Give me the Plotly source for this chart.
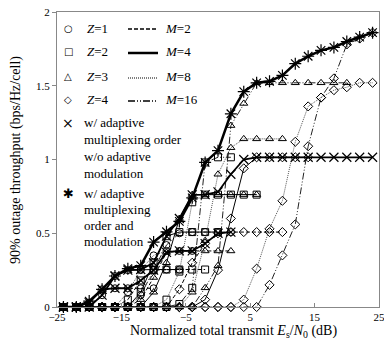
import plotly.graph_objects as go

# ---------------- data ----------------
snr_db = [-24, -22, -20, -18, -16, -14, -12, -10, -8, -6, -4, -2, 0,
          2, 4, 6, 8, 10, 12, 14, 16, 18, 20, 22, 24]

# Z = number of multiplexed streams, M = modulation order
z1_m2 = [0, 0, 0.03, 0.12, 0.127, 0.127, 0.127, 0.127]
z1_m4 = [0, 0, 0, 0.08, 0.21, 0.25, 0.254, 0.254, 0.254, 0.254]
z1_m8 = [0, 0, 0, 0, 0, 0.1, 0.25, 0.35, 0.38, 0.38, 0.38]
z1_m16 = [0, 0, 0, 0, 0, 0, 0.08, 0.25, 0.42, 0.5, 0.508, 0.508, 0.508, 0.508]

z2_m2 = [0, 0, 0, 0, 0, 0.05, 0.18, 0.25, 0.254, 0.254, 0.254, 0.254]
z2_m4 = [0, 0, 0, 0, 0, 0, 0.1, 0.3, 0.48, 0.508, 0.508, 0.508, 0.508]
z2_m8 = [0, 0, 0, 0, 0, 0, 0, 0, 0.05, 0.24, 0.71, 0.762, 0.762, 0.762, 0.762, 0.762]
z2_m16 = [0, 0, 0, 0, 0, 0, 0, 0, 0, 0.02, 0.13, 0.98, 1.015, 1.015]

z3_m2 = [0, 0, 0, 0, 0, 0, 0.05, 0.2, 0.37, 0.38, 0.38, 0.38, 0.38, 0.38]
z3_m4 = [0, 0, 0, 0, 0, 0, 0, 0.1, 0.3, 0.6, 0.762, 0.762, 0.762, 0.762, 0.762, 0.762]
z3_m8 = [0, 0, 0, 0, 0, 0, 0, 0, 0, 0, 0.1, 0.45, 0.9, 1.08, 1.14, 1.14, 1.14, 1.14]
z3_m16 = [0, 0, 0, 0, 0, 0, 0, 0, 0, 0, 0, 0.13, 0.28, 1.23, 1.38, 1.52, 1.52,
          1.52, 1.52, 1.52, 1.52, 1.52, 1.52]

z4_m2 = [0, 0, 0, 0, 0, 0, 0, 0, 0, 0.12, 0.3, 0.43, 0.5, 0.508, 0.508, 0.508,
         0.508, 0.508]
z4_m4 = [0, 0, 0, 0, 0, 0, 0, 0, 0, 0, 0, 0.05, 0.25, 0.6, 0.94, 1.015, 1.015,
         1.015, 1.015, 1.015]
z4_m8 = [0, 0, 0, 0, 0, 0, 0, 0, 0, 0, 0, 0, 0, 0, 0.05, 0.26, 0.53, 0.72, 1.12,
         1.36, 1.42, 1.47, 1.49, 1.52, 1.52]
z4_m16 = [0, 0, 0, 0, 0, 0, 0, 0, 0, 0, 0, 0, 0, 0, 0, 0, 0.15, 0.35, 0.56, 1.09,
          1.42, 1.55, 1.78, 1.82, 1.86]

# w/ adaptive multiplexing order, w/o adaptive modulation
adapt_z_m2 = [0, 0, 0.03, 0.12, 0.127, 0.127, 0.18, 0.25, 0.37, 0.38, 0.38, 0.43,
              0.5, 0.508]
adapt_z_m4 = [0, 0, 0, 0.08, 0.21, 0.25, 0.254, 0.3, 0.48, 0.6, 0.76, 0.762, 0.78,
              0.9, 1.0, 1.015, 1.015, 1.015, 1.015, 1.015, 1.015, 1.015, 1.015,
              1.015, 1.015]
# w/ adaptive multiplexing order and modulation
adapt_both = [0, 0, 0.04, 0.12, 0.21, 0.26, 0.28, 0.44, 0.51, 0.58, 0.74, 0.98,
              1.06, 1.31, 1.46, 1.52, 1.53, 1.57, 1.65, 1.70, 1.74, 1.76, 1.80,
              1.83, 1.86]

x_ticks = [-25, -15, -5, 5, 15, 25]
y_ticks = [0, 0.5, 1, 1.5, 2]
y_tick_text = ["0", "0.5", "1", "1.5", "2"]

# ---------------- styles ----------------
marker_by_z = {1: "circle-open", 2: "square-open", 3: "triangle-up-open",
               4: "diamond-open"}
dash_by_m = {2: "4px,2px", 4: "solid", 8: "1px,1px", 16: "7px,2px,1px,2px,1px,2px"}
color_by_m = {2: "#000000", 4: "#000000", 8: "#555555", 16: "#222222"}

curves = {
    (1, 2): z1_m2, (1, 4): z1_m4, (1, 8): z1_m8, (1, 16): z1_m16,
    (2, 2): z2_m2, (2, 4): z2_m4, (2, 8): z2_m8, (2, 16): z2_m16,
    (3, 2): z3_m2, (3, 4): z3_m4, (3, 8): z3_m8, (3, 16): z3_m16,
    (4, 2): z4_m2, (4, 4): z4_m4, (4, 8): z4_m8, (4, 16): z4_m16,
}

fig = go.Figure()

for (z, m), vals in curves.items():
    n = len(vals)
    fig.add_trace(go.Scatter(
        x=snr_db[:n], y=vals, mode="lines+markers", cliponaxis=False,
        line=dict(color=color_by_m[m], width=1, dash=dash_by_m[m]),
        marker=dict(symbol=marker_by_z[z], size=7, color="black",
                    line=dict(width=1, color="black")),
    ))

for vals in (adapt_z_m2, adapt_z_m4):
    n = len(vals)
    fig.add_trace(go.Scatter(
        x=snr_db[:n], y=vals, mode="lines+markers", cliponaxis=False,
        line=dict(color="black", width=1.8),
        marker=dict(symbol="x-thin-open", size=9, color="black",
                    line=dict(width=1.2, color="black")),
    ))

fig.add_trace(go.Scatter(
    x=snr_db, y=adapt_both, mode="lines+markers", cliponaxis=False,
    line=dict(color="black", width=2.5),
    marker=dict(symbol="asterisk-open", size=10, color="black",
                line=dict(width=1.2, color="black")),
))

# ---------------- layout ----------------
L, R, T, B = 57, 5, 12, 40
PW, PH = 384 - L - R, 347 - T - B


def px(xp):
    return (xp - L) / PW


def py(yp):
    return (347 - B - yp) / PH


serif = "Liberation Serif"
ann = []
shapes = []


def note(x, y, text, family=serif, size=13, xanchor="left", angle=0):
    ann.append(dict(x=px(x), y=py(y), xref="paper", yref="paper", text=text,
                    showarrow=False, xanchor=xanchor, yanchor="middle",
                    textangle=angle,
                    font=dict(family=family, size=size, color="black")))


legend_rows = [(28, "\u25CB", 1, 2, "4px,2px", 1.3),
               (52, "\u25A1", 2, 4, "solid", 2.5),
               (77, "\u25B3", 3, 8, "1px,1px", 1),
               (100, "\u25C7", 4, 16, "7px,2px,1px,2px,1px,2px", 1.5)]
for yy, sym, z, m, dash, w in legend_rows:
    note(68, yy, sym, family="DejaVu Sans", size=10, xanchor="center")
    note(85, yy, f"<i>Z</i>={z}")
    note(163, yy, f"<i>M</i>={m}")
    shapes.append(dict(type="line", xref="paper", yref="paper",
                       x0=px(128), x1=px(158), y0=py(yy + 1), y1=py(yy + 1),
                       line=dict(color="black", width=w, dash=dash)))

note(68, 123, "\u00D7", family="DejaVu Sans", size=14, xanchor="center")
for i, t in enumerate(["w/ adaptive", "multiplexing order", "w/o adaptive",
                       "modulation"]):
    note(82, 123 + i * 16.7, t)

note(68, 193, "\u2731", family="DejaVu Sans", size=13, xanchor="center")
for i, t in enumerate(["w/ adaptive", "multiplexing", "order and",
                       "modulation"]):
    note(82, 193 + i * 16.3, t)

# axis titles
note(233, 331,
     "Normalized total transmit <i>E</i><sub>s</sub>/<i>N</i><sub>0</sub> (dB)",
     size=14, xanchor="center")
note(16, 160, "90% outage throughput (bps/Hz/cell)", size=14,
     xanchor="center", angle=-90)

fig.update_layout(
    width=384, height=347,
    margin=dict(l=L, r=R, t=T, b=B, autoexpand=False),
    plot_bgcolor="white", paper_bgcolor="white",
    showlegend=False,
    font=dict(family=serif, size=11, color="black"),
    annotations=ann, shapes=shapes,
)
fig.update_xaxes(range=[-25, 25], tickvals=x_ticks, ticks="inside", ticklen=4,
                 tickcolor="#888888", showline=True, linecolor="#888888",
                 linewidth=1, mirror=True, showgrid=False, zeroline=False,
                 ticklabeloverflow="allow",
                 tickfont=dict(family=serif, size=11, color="black"))
fig.update_yaxes(range=[0, 2], tickvals=y_ticks, ticktext=y_tick_text,
                 ticks="outside", ticklen=4, tickcolor="#888888",
                 showline=True, linecolor="#888888", linewidth=1, mirror=True,
                 showgrid=False, zeroline=False,
                 tickfont=dict(family=serif, size=11, color="black"))

fig.write_html("out.html",
               config={"displayModeBar": False},
               post_script="document.body.style.margin='0px';"
                           "document.body.style.overflow='hidden';")
